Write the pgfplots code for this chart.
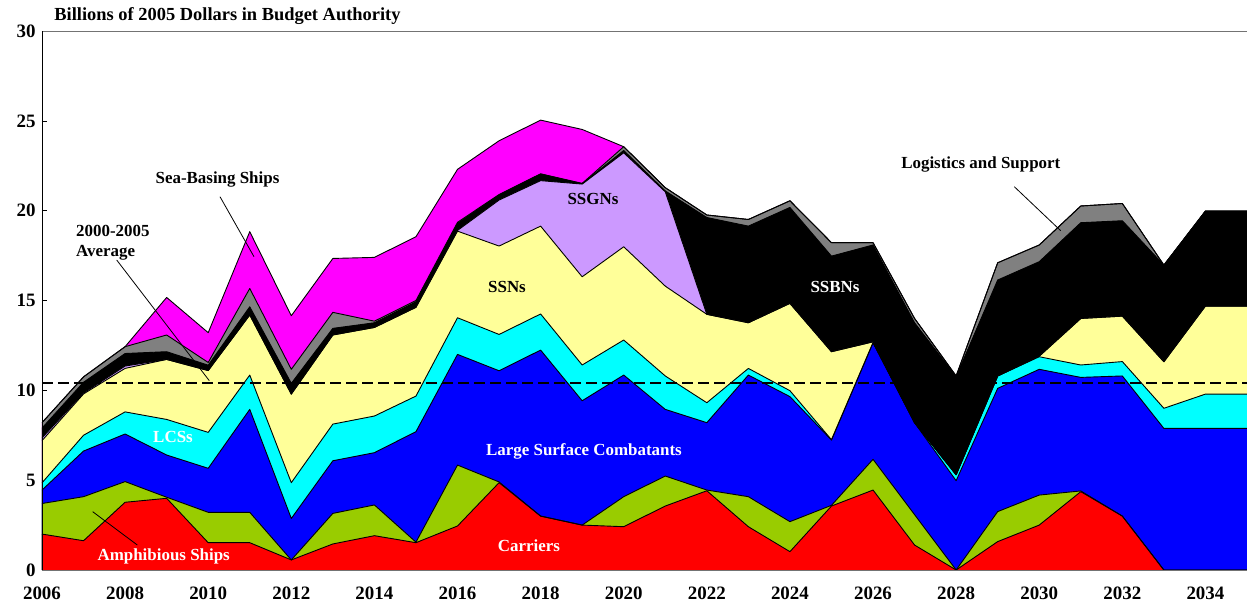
\documentclass[border=0pt]{standalone}
\usepackage{fontspec}
\setmainfont{Liberation Serif}
\usepackage{pgfplots}
\usepackage{pgfplotstable}
\pgfplotsset{compat=1.18}
\definecolor{cRed}{HTML}{FF0000}
\definecolor{cGreen}{HTML}{99CC00}
\definecolor{cBlue}{HTML}{0000FF}
\definecolor{cCyan}{HTML}{00FFFF}
\definecolor{cYellow}{HTML}{FFFF99}
\definecolor{cLav}{HTML}{CC99FF}
\definecolor{cGrey}{HTML}{808080}
\definecolor{cMag}{HTML}{FF00FF}
% cumulative tops: c1 Carriers, c2 Amphibious, c3 Large Surface Combatants, c4 LCSs,
% c5 SSNs, c6 SSGNs, c7 SSBNs, c8 Logistics and Support, c9 Sea-Basing Ships
\pgfplotstableread{
yr   c1   c2   c3    c4    c5    c6    c7    c8    c9
2006 2.00 3.70 4.45  4.85  7.20  7.35  7.90  8.20  8.20
2007 1.63 4.08 6.62  7.50  9.80  9.85  10.45 10.75 10.75
2008 3.77 4.92 7.57  8.80  11.22 11.35 12.05 12.43 12.43
2009 3.99 4.05 6.40  8.38  11.72 11.72 12.15 13.08 15.17
2010 1.52 3.21 5.66  7.66  11.10 11.10 11.40 11.55 13.21
2011 1.52 3.21 8.94  10.85 14.19 14.19 14.65 15.67 18.83
2012 0.56 0.56 2.87  4.86  9.79  9.79  10.39 11.17 14.15
2013 1.45 3.15 6.08  8.12  13.08 13.08 13.45 14.34 17.34
2014 1.91 3.62 6.53  8.57  13.50 13.50 13.76 13.85 17.40
2015 1.52 1.55 7.70  9.68  14.62 14.62 14.93 15.00 18.55
2016 2.45 5.84 12.00 14.04 18.86 18.90 19.29 19.35 22.30
2017 4.86 4.90 11.09 13.11 18.03 20.59 20.87 20.90 23.89
2018 3.00 3.00 12.24 14.25 19.14 21.67 22.04 22.05 25.04
2019 2.50 2.50 9.42  11.41 16.32 21.48 21.50 21.52 24.52
2020 2.41 4.08 10.85 12.80 17.99 23.22 23.35 23.56 23.56
2021 3.56 5.23 8.94  10.80 15.80 21.05 21.10 21.28 21.28
2022 4.41 4.45 8.20  9.31  14.23 14.23 19.62 19.76 19.76
2023 2.41 4.08 10.85 11.22 13.76 13.76 19.14 19.51 19.51
2024 1.02 2.69 9.65  9.98  14.84 14.84 20.18 20.55 20.55
2025 3.56 3.60 7.23  7.25  12.15 12.15 17.47 18.22 18.22
2026 4.45 6.16 12.65 12.65 12.70 12.70 18.09 18.22 18.22
2027 1.39 3.08 8.20  8.20  8.20  8.20  13.76 14.00 14.00
2028 0.00 0.00 4.97  5.30  5.30  5.30  10.76 10.80 10.80
2029 1.58 3.25 10.11 10.80 10.80 10.80 16.14 17.10 17.10
2030 2.50 4.17 11.17 11.87 11.90 11.90 17.16 18.09 18.09
2031 4.36 4.40 10.72 11.41 14.00 14.00 19.33 20.26 20.26
2032 3.00 3.00 10.80 11.60 14.13 14.13 19.44 20.40 20.40
2033 0.00 0.00 7.88  9.00  11.59 11.59 16.97 16.97 16.97
2034 0.00 0.00 7.88  9.79  14.69 14.69 19.98 19.98 19.98
2035 0.00 0.00 7.88  9.79  14.69 14.69 19.98 19.98 19.98
}\data
\begin{document}
\begin{tikzpicture}[font=\bfseries]
\begin{axis}[
  scale only axis, width=1205bp, height=539bp,
  xmin=2006, xmax=2035, ymin=0, ymax=30,
  axis line style={draw=black!55, line width=0.8bp},
  xtick={2006,2008,...,2034},
  minor xtick={2007,2009,...,2035},
  ytick={0,5,...,30},
  tick align=inside, xtick pos=bottom, ytick pos=left,
  major tick length=5bp, minor tick length=5bp,
  tick style={black, line width=0.6bp},
  /pgf/number format/assume math mode=true,
  x tick label style={/pgf/number format/1000 sep={}},
  tick label style={font=\fontsize{19}{21}\selectfont\bfseries},
  xticklabel shift=13bp, yticklabel shift=3bp,
  every axis plot/.append style={line join=round},
]
\addplot[fill=cMag, draw=none] table[y=c9]{\data} \closedcycle;
\addplot[fill=cGrey, draw=none] table[y=c8]{\data} \closedcycle;
\addplot[fill=black, draw=none] table[y=c7]{\data} \closedcycle;
\addplot[fill=cLav, draw=none] table[y=c6]{\data} \closedcycle;
\addplot[fill=cYellow, draw=none] table[y=c5]{\data} \closedcycle;
\addplot[fill=cCyan, draw=none] table[y=c4]{\data} \closedcycle;
\addplot[fill=cBlue, draw=none] table[y=c3]{\data} \closedcycle;
\addplot[fill=cGreen, draw=none] table[y=c2]{\data} \closedcycle;
\addplot[fill=cRed, draw=none] table[y=c1]{\data} \closedcycle;
\foreach \c in {c9,c8,c7,c6,c5,c4,c3,c2,c1}{
  \addplot[black, line width=0.9bp, mark=none] table[y=\c]{\data};
}
\addplot[black, line width=2bp, dash pattern=on 11bp off 5bp] coordinates {(2006,10.4) (2035,10.4)};
\end{axis}
\draw[black, line width=1bp] (0,0) -- (0,539bp);
\begin{scope}[x=1bp,y=1bp]
\node[font=\fontsize{18.5}{20}\selectfont\bfseries] at (185.5,554) {Billions of 2005 Dollars in Budget Authority};
\def\lf{\fontsize{17}{19}\selectfont\bfseries}
\node[font=\lf] at (175.5,391) {Sea-Basing Ships};
\node[font=\lf, anchor=west] at (30.7,339) {2000-2005};
\node[font=\lf, anchor=west] at (30.7,317) {Average};
\node[font=\lf] at (551,370.7) {SSGNs};
\node[font=\lf] at (465,282.7) {SSNs};
\node[font=\lf, white] at (793,283) {SSBNs};
\node[font=\lf] at (938.8,406) {Logistics and Support};
\node[font=\lf, white] at (131,133.3) {LCSs};
\node[font=\lf, white] at (542,119) {Large Surface Combatants};
\node[font=\lf, white] at (487,24) {Carriers};
\node[font=\lf, white] at (121.7,13.3) {Amphibious Ships};
\draw[black, line width=0.8bp] (178,373.3) -- (212,313.3);
\draw[black, line width=0.8bp] (74.7,310) -- (167.3,189.3);
\draw[black, line width=0.8bp] (972.3,383.3) -- (1018.7,339.3);
\draw[black, line width=0.8bp] (50.7,58.3) -- (95.3,25);
\end{scope}
\pgfresetboundingbox
\path[use as bounding box] (-42bp,-42bp) rectangle (1205bp,570bp);
\end{tikzpicture}
\end{document}
